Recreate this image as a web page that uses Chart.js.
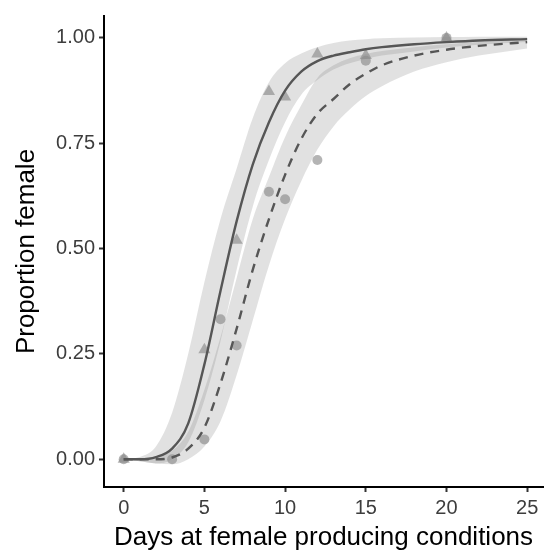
<!DOCTYPE html>
<html>
<head>
<meta charset="utf-8">
<script src="https://cdn.jsdelivr.net/npm/chart.js@4"></script>
<style>
  html, body { margin: 0; padding: 0; background: #fff; }
  #wrap { width: 550px; height: 552px; }
</style>
</head>
<body>
<div id="wrap"><canvas id="chart" width="550" height="552"></canvas></div>
<script>
// fitted curves
const days = [0, 1, 2, 3, 4, 5, 6, 7, 8, 9, 10, 11, 12, 13, 14, 15, 16, 18, 20, 22, 25];
const fitA   = [0, 0, 0.005, 0.025, 0.085, 0.225, 0.40, 0.565, 0.70, 0.80, 0.875, 0.92, 0.945, 0.958, 0.966, 0.973, 0.978, 0.985, 0.99, 0.994, 0.997];
const upperA = [0, 0.005, 0.03, 0.11, 0.25, 0.42, 0.57, 0.69, 0.81, 0.895, 0.94, 0.963, 0.978, 0.988, 0.994, 0.997, 0.999, 1.001, 1.002, 1.003, 1.003];
const lowerA = [0, -0.005, -0.01, 0.0, 0.04, 0.14, 0.28, 0.45, 0.60, 0.71, 0.80, 0.865, 0.90, 0.925, 0.94, 0.95, 0.958, 0.968, 0.977, 0.984, 0.99];
const fitB   = [0, 0, 0, 0.004, 0.025, 0.075, 0.18, 0.31, 0.45, 0.57, 0.675, 0.76, 0.82, 0.855, 0.89, 0.915, 0.935, 0.958, 0.972, 0.981, 0.99];
const upperB = [0, 0, 0.005, 0.02, 0.065, 0.165, 0.29, 0.43, 0.57, 0.67, 0.765, 0.84, 0.905, 0.935, 0.952, 0.962, 0.969, 0.978, 0.985, 0.99, 0.995];
const lowerB = [0, -0.005, -0.01, -0.012, 0.0, 0.03, 0.09, 0.2, 0.33, 0.46, 0.57, 0.66, 0.735, 0.79, 0.83, 0.862, 0.885, 0.92, 0.942, 0.958, 0.975];

// observed proportions
const obsDaysA = [0, 5, 7, 9, 10, 12, 15, 20];
const obsA     = [0, 0.26, 0.52, 0.873, 0.86, 0.962, 0.958, 1.0];
const obsDaysB = [0, 3, 5, 6, 7, 9, 10, 12, 15, 20];
const obsB     = [0, 0, 0.047, 0.332, 0.27, 0.635, 0.617, 0.71, 0.946, 1.0];

const xTicks = [0, 5, 10, 15, 20, 25];
const yTicks = [0, 0.25, 0.5, 0.75, 1];

const toPts = (xs, ys) => xs.map((x, i) => ({ x: x, y: ys[i] }));

const bandFill = 'rgba(128,128,128,0.24)';
const lineColor = '#565656';
const pointColor = 'rgba(140,140,140,0.65)';
const FONT = '"Liberation Sans", Arial, sans-serif';

const band = (data, fill) => ({
    type: 'line',
    data: data,
    borderWidth: 0,
    borderColor: 'transparent',
    backgroundColor: bandFill,
    pointRadius: 0,
    fill: fill,
    cubicInterpolationMode: 'monotone',
    order: 3
});

const config = {
    type: 'line',
    data: {
        datasets: [
            band(toPts(days, lowerA), false),
            band(toPts(days, upperA), '-1'),
            band(toPts(days, lowerB), false),
            band(toPts(days, upperB), '-1'),
            {
                type: 'scatter',
                data: toPts(obsDaysA, obsA),
                pointStyle: 'triangle',
                pointRadius: 7,
                backgroundColor: pointColor,
                borderWidth: 0,
                order: 2
            },
            {
                type: 'scatter',
                data: toPts(obsDaysB, obsB),
                pointStyle: 'circle',
                pointRadius: 5,
                backgroundColor: pointColor,
                borderWidth: 0,
                order: 2
            },
            {
                type: 'line',
                data: toPts(days, fitA),
                borderColor: lineColor,
                borderWidth: 2.4,
                pointRadius: 0,
                fill: false,
                cubicInterpolationMode: 'monotone',
                order: 1
            },
            {
                type: 'line',
                data: toPts(days, fitB),
                borderColor: lineColor,
                borderWidth: 2.4,
                borderDash: [9, 7],
                pointRadius: 0,
                fill: false,
                cubicInterpolationMode: 'monotone',
                order: 1
            }
        ]
    },
    options: {
        responsive: false,
        animation: false,
        layout: { padding: { top: 12, right: 0, left: 0, bottom: 0 } },
        plugins: { legend: { display: false }, tooltip: { enabled: false } },
        scales: {
            x: {
                type: 'linear',
                min: -1.22,
                max: 25.98,
                afterBuildTicks: s => { s.ticks = xTicks.map(v => ({ value: v })); },
                afterFit: s => { s.height = 65; },
                grid: { drawOnChartArea: false, drawTicks: true, tickLength: 5, tickWidth: 2, color: '#333' },
                border: { display: true, color: '#000', width: 2 },
                ticks: { color: '#3d3d3d', font: { family: FONT, size: 20 }, padding: 4 },
                title: { display: true, text: 'Days at female producing conditions', color: '#000', font: { family: FONT, size: 26 }, padding: { top: 0, bottom: -1 } }
            },
            y: {
                type: 'linear',
                min: -0.066,
                max: 1.052,
                afterBuildTicks: s => { s.ticks = yTicks.map(v => ({ value: v })); },
                afterFit: s => { s.width = 104; },
                grid: { drawOnChartArea: false, drawTicks: true, tickLength: 5, tickWidth: 2, color: '#333' },
                border: { display: true, color: '#000', width: 2 },
                ticks: { color: '#3d3d3d', font: { family: FONT, size: 20 }, padding: 4, callback: v => v.toFixed(2) },
                title: { display: true, text: 'Proportion female', color: '#000', font: { family: FONT, size: 26 }, padding: { top: 11, bottom: 0 } }
            }
        }
    }
};

new Chart(document.getElementById('chart'), config);
</script>
</body>
</html>
